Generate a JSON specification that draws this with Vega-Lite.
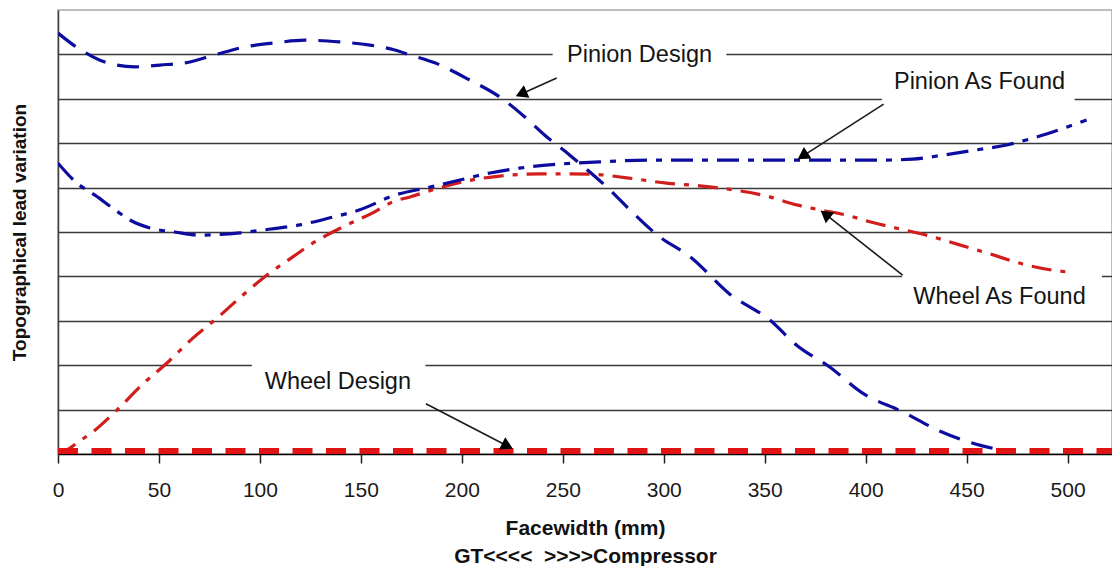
{
  "$schema": "https://vega.github.io/schema/vega-lite/v6.json",
  "autosize": {"type": "none"},
  "padding": {"left": 58, "top": 10, "right": 0, "bottom": 112},
  "width": 1054,
  "height": 444,
  "background": "white",
  "config": {
    "view": {"stroke": "#a8a8a8", "strokeWidth": 1.5},
    "font": "Liberation Sans"
  },
  "datasets": {
    "curves": [
      {"series": "Pinion Design", "mm": 0, "v": 9.48},
      {"series": "Pinion Design", "mm": 9.9, "v": 9.14},
      {"series": "Pinion Design", "mm": 20.8, "v": 8.87},
      {"series": "Pinion Design", "mm": 29.2, "v": 8.76},
      {"series": "Pinion Design", "mm": 38.1, "v": 8.72},
      {"series": "Pinion Design", "mm": 50.5, "v": 8.76},
      {"series": "Pinion Design", "mm": 65.3, "v": 8.83},
      {"series": "Pinion Design", "mm": 77.7, "v": 8.99},
      {"series": "Pinion Design", "mm": 92.6, "v": 9.17},
      {"series": "Pinion Design", "mm": 107.4, "v": 9.26},
      {"series": "Pinion Design", "mm": 122.3, "v": 9.32},
      {"series": "Pinion Design", "mm": 139.6, "v": 9.28},
      {"series": "Pinion Design", "mm": 154.5, "v": 9.21},
      {"series": "Pinion Design", "mm": 166.8, "v": 9.1},
      {"series": "Pinion Design", "mm": 174.3, "v": 8.99},
      {"series": "Pinion Design", "mm": 186.6, "v": 8.81},
      {"series": "Pinion Design", "mm": 204, "v": 8.42},
      {"series": "Pinion Design", "mm": 218.8, "v": 8.04},
      {"series": "Pinion Design", "mm": 231.2, "v": 7.59},
      {"series": "Pinion Design", "mm": 241.1, "v": 7.18},
      {"series": "Pinion Design", "mm": 253.5, "v": 6.73},
      {"series": "Pinion Design", "mm": 263.4, "v": 6.35},
      {"series": "Pinion Design", "mm": 273.3, "v": 5.95},
      {"series": "Pinion Design", "mm": 283.2, "v": 5.5},
      {"series": "Pinion Design", "mm": 298, "v": 4.89},
      {"series": "Pinion Design", "mm": 312.9, "v": 4.45},
      {"series": "Pinion Design", "mm": 332.7, "v": 3.6},
      {"series": "Pinion Design", "mm": 352.5, "v": 3.02},
      {"series": "Pinion Design", "mm": 365.8, "v": 2.45},
      {"series": "Pinion Design", "mm": 382.2, "v": 1.96},
      {"series": "Pinion Design", "mm": 398.5, "v": 1.37},
      {"series": "Pinion Design", "mm": 418.3, "v": 0.95},
      {"series": "Pinion Design", "mm": 436.6, "v": 0.52},
      {"series": "Pinion Design", "mm": 456.4, "v": 0.2},
      {"series": "Pinion Design", "mm": 464.9, "v": 0.11},

      {"series": "Pinion As Found", "mm": 0, "v": 6.55},
      {"series": "Pinion As Found", "mm": 9.4, "v": 6.1},
      {"series": "Pinion As Found", "mm": 18.3, "v": 5.83},
      {"series": "Pinion As Found", "mm": 28.2, "v": 5.5},
      {"series": "Pinion As Found", "mm": 35.6, "v": 5.27},
      {"series": "Pinion As Found", "mm": 45.5, "v": 5.09},
      {"series": "Pinion As Found", "mm": 57.9, "v": 5.0},
      {"series": "Pinion As Found", "mm": 70.3, "v": 4.93},
      {"series": "Pinion As Found", "mm": 90.1, "v": 4.98},
      {"series": "Pinion As Found", "mm": 102.5, "v": 5.05},
      {"series": "Pinion As Found", "mm": 119.8, "v": 5.16},
      {"series": "Pinion As Found", "mm": 134.7, "v": 5.32},
      {"series": "Pinion As Found", "mm": 149.5, "v": 5.5},
      {"series": "Pinion As Found", "mm": 166.8, "v": 5.83},
      {"series": "Pinion As Found", "mm": 184.2, "v": 6.01},
      {"series": "Pinion As Found", "mm": 199, "v": 6.17},
      {"series": "Pinion As Found", "mm": 213.9, "v": 6.33},
      {"series": "Pinion As Found", "mm": 228.7, "v": 6.44},
      {"series": "Pinion As Found", "mm": 248.5, "v": 6.53},
      {"series": "Pinion As Found", "mm": 268.3, "v": 6.58},
      {"series": "Pinion As Found", "mm": 293.1, "v": 6.62},
      {"series": "Pinion As Found", "mm": 317.8, "v": 6.62},
      {"series": "Pinion As Found", "mm": 347.5, "v": 6.62},
      {"series": "Pinion As Found", "mm": 367.3, "v": 6.62},
      {"series": "Pinion As Found", "mm": 392, "v": 6.62},
      {"series": "Pinion As Found", "mm": 408.4, "v": 6.62},
      {"series": "Pinion As Found", "mm": 423.3, "v": 6.64},
      {"series": "Pinion As Found", "mm": 438.1, "v": 6.73},
      {"series": "Pinion As Found", "mm": 455, "v": 6.85},
      {"series": "Pinion As Found", "mm": 469.8, "v": 6.96},
      {"series": "Pinion As Found", "mm": 484.7, "v": 7.14},
      {"series": "Pinion As Found", "mm": 499.5, "v": 7.36},
      {"series": "Pinion As Found", "mm": 509.4, "v": 7.52},

      {"series": "Wheel As Found", "mm": 0, "v": 0},
      {"series": "Wheel As Found", "mm": 4.5, "v": 0.09},
      {"series": "Wheel As Found", "mm": 9.4, "v": 0.25},
      {"series": "Wheel As Found", "mm": 17.3, "v": 0.5},
      {"series": "Wheel As Found", "mm": 29.2, "v": 0.99},
      {"series": "Wheel As Found", "mm": 42.1, "v": 1.58},
      {"series": "Wheel As Found", "mm": 54, "v": 2.05},
      {"series": "Wheel As Found", "mm": 66.8, "v": 2.61},
      {"series": "Wheel As Found", "mm": 78.7, "v": 3.06},
      {"series": "Wheel As Found", "mm": 91.6, "v": 3.58},
      {"series": "Wheel As Found", "mm": 103.5, "v": 4.03},
      {"series": "Wheel As Found", "mm": 116.3, "v": 4.44},
      {"series": "Wheel As Found", "mm": 124.8, "v": 4.71},
      {"series": "Wheel As Found", "mm": 136.1, "v": 5.0},
      {"series": "Wheel As Found", "mm": 143.1, "v": 5.16},
      {"series": "Wheel As Found", "mm": 155.9, "v": 5.43},
      {"series": "Wheel As Found", "mm": 165.8, "v": 5.68},
      {"series": "Wheel As Found", "mm": 174.3, "v": 5.79},
      {"series": "Wheel As Found", "mm": 185.6, "v": 5.95},
      {"series": "Wheel As Found", "mm": 202.5, "v": 6.15},
      {"series": "Wheel As Found", "mm": 218.8, "v": 6.26},
      {"series": "Wheel As Found", "mm": 238.6, "v": 6.31},
      {"series": "Wheel As Found", "mm": 252, "v": 6.31},
      {"series": "Wheel As Found", "mm": 264.9, "v": 6.3},
      {"series": "Wheel As Found", "mm": 281.7, "v": 6.22},
      {"series": "Wheel As Found", "mm": 301.5, "v": 6.1},
      {"series": "Wheel As Found", "mm": 317.8, "v": 6.04},
      {"series": "Wheel As Found", "mm": 334.2, "v": 5.95},
      {"series": "Wheel As Found", "mm": 351, "v": 5.81},
      {"series": "Wheel As Found", "mm": 365.8, "v": 5.61},
      {"series": "Wheel As Found", "mm": 377.2, "v": 5.5},
      {"series": "Wheel As Found", "mm": 390.6, "v": 5.38},
      {"series": "Wheel As Found", "mm": 402, "v": 5.23},
      {"series": "Wheel As Found", "mm": 416.8, "v": 5.07},
      {"series": "Wheel As Found", "mm": 431.7, "v": 4.91},
      {"series": "Wheel As Found", "mm": 446.5, "v": 4.71},
      {"series": "Wheel As Found", "mm": 459.9, "v": 4.53},
      {"series": "Wheel As Found", "mm": 477.7, "v": 4.28},
      {"series": "Wheel As Found", "mm": 492.6, "v": 4.14},
      {"series": "Wheel As Found", "mm": 500, "v": 4.1},

      {"series": "Wheel Design", "mm": 0, "v": 0.07},
      {"series": "Wheel Design", "mm": 522, "v": 0.07}
    ],
    "boxes": [
      {"label": "Pinion Design", "x1": 245, "x2": 331, "y1": 8.7, "y2": 9.3},
      {"label": "Pinion As Found", "x1": 408, "x2": 503.5, "y1": 7.7, "y2": 8.3},
      {"label": "Wheel As Found", "x1": 418, "x2": 517, "y1": 3.2, "y2": 4.04},
      {"label": "Wheel Design", "x1": 96, "x2": 182, "y1": 1.3, "y2": 2.3}
    ],
    "labels": [
      {"label": "Pinion Design", "x": 288, "y": 8.99},
      {"label": "Pinion As Found", "x": 456.4, "y": 8.38},
      {"label": "Wheel As Found", "x": 466.3, "y": 3.54},
      {"label": "Wheel Design", "x": 138.6, "y": 1.62}
    ],
    "arrows": [
      {"label": "Pinion Design", "x1": 247, "y1": 8.47, "x2": 229.4, "y2": 8.11},
      {"label": "Pinion As Found", "x1": 408.9, "y1": 7.88, "x2": 368.8, "y2": 6.71},
      {"label": "Wheel As Found", "x1": 418.3, "y1": 4.03, "x2": 380, "y2": 5.4},
      {"label": "Wheel Design", "x1": 182.2, "y1": 1.13, "x2": 222.6, "y2": 0.18}
    ]
  },
  "layer": [
    {
      "data": {"name": "boxes"},
      "mark": {"type": "rect", "fill": "white", "stroke": null},
      "encoding": {
        "x": {
          "field": "x1", "type": "quantitative",
          "scale": {"domain": [0, 522], "nice": false, "zero": false},
          "axis": {
            "values": [0, 50, 100, 150, 200, 250, 300, 350, 400, 450, 500],
            "grid": false,
            "domain": true, "domainColor": "#000000", "domainWidth": 1.5,
            "ticks": true, "tickSize": 9, "tickColor": "#202020", "tickWidth": 1.5,
            "labelFont": "Liberation Sans", "labelFontSize": 21, "labelColor": "#1a1a1a",
            "labelBaseline": "alphabetic", "labelPadding": 33, "labelFlush": false,
            "title": ["Facewidth (mm)", "GT<<<<\u00a0 >>>>Compressor"],
            "titleFont": "Liberation Sans", "titleFontSize": 21, "titleFontWeight": "bold",
            "titleColor": "#111111", "titleLineHeight": 28,
            "titleBaseline": "alphabetic", "titleY": 80, "titleX": 527, "titleAnchor": "middle"
          }
        },
        "x2": {"field": "x2"},
        "y": {
          "field": "y1", "type": "quantitative",
          "scale": {"domain": [0, 10], "nice": false, "zero": false},
          "axis": {
            "values": [1, 2, 3, 4, 5, 6, 7, 8, 9],
            "grid": true, "gridColor": "#3a3a3a", "gridWidth": 1.3,
            "labels": false, "ticks": false,
            "domain": true, "domainColor": "#404040", "domainWidth": 1.5,
            "title": "Topographical lead variation",
            "titleFont": "Liberation Sans", "titleFontSize": 19, "titleFontWeight": "bold",
            "titleColor": "#111111",
            "titleAngle": 270, "titleX": -39, "titleY": 222,
            "titleAlign": "center", "titleBaseline": "middle"
          }
        },
        "y2": {"field": "y2"}
      }
    },
    {
      "data": {"name": "curves"},
      "transform": [{"filter": "datum.series === 'Wheel As Found'"}],
      "mark": {"type": "line", "color": "#d21d1d", "strokeWidth": 3.2, "strokeDash": [20, 9, 5, 9], "interpolate": "monotone", "clip": true},
      "encoding": {
        "x": {"field": "mm", "type": "quantitative"},
        "y": {"field": "v", "type": "quantitative"}
      }
    },
    {
      "data": {"name": "curves"},
      "transform": [{"filter": "datum.series === 'Pinion As Found'"}],
      "mark": {"type": "line", "color": "#0c0c9e", "strokeWidth": 3.2, "strokeDash": [22, 9, 6, 9], "interpolate": "monotone", "clip": true},
      "encoding": {
        "x": {"field": "mm", "type": "quantitative"},
        "y": {"field": "v", "type": "quantitative"}
      }
    },
    {
      "data": {"name": "curves"},
      "transform": [{"filter": "datum.series === 'Pinion Design'"}],
      "mark": {"type": "line", "color": "#0c0c9e", "strokeWidth": 3.2, "strokeDash": [22, 12], "interpolate": "monotone", "clip": true},
      "encoding": {
        "x": {"field": "mm", "type": "quantitative"},
        "y": {"field": "v", "type": "quantitative"}
      }
    },
    {
      "data": {"name": "curves"},
      "transform": [{"filter": "datum.series === 'Wheel Design'"}],
      "mark": {"type": "line", "color": "#e01414", "strokeWidth": 6, "strokeDash": [20, 13.5], "clip": true},
      "encoding": {
        "x": {"field": "mm", "type": "quantitative"},
        "y": {"field": "v", "type": "quantitative"}
      }
    },
    {
      "data": {"name": "arrows"},
      "mark": {"type": "rule", "color": "#1a1a1a", "strokeWidth": 1.6},
      "encoding": {
        "x": {"field": "x1", "type": "quantitative"},
        "y": {"field": "y1", "type": "quantitative"},
        "x2": {"field": "x2"},
        "y2": {"field": "y2"}
      }
    },
    {
      "data": {"name": "arrows"},
      "transform": [{"filter": "datum.label === 'Pinion Design'"}],
      "mark": {"type": "point", "shape": "triangle-up", "filled": true, "color": "#000000", "size": 190, "angle": 246, "opacity": 1},
      "encoding": {
        "x": {"field": "x2", "type": "quantitative"},
        "y": {"field": "y2", "type": "quantitative"}
      }
    },
    {
      "data": {"name": "arrows"},
      "transform": [{"filter": "datum.label === 'Pinion As Found'"}],
      "mark": {"type": "point", "shape": "triangle-up", "filled": true, "color": "#000000", "size": 190, "angle": 237, "opacity": 1},
      "encoding": {
        "x": {"field": "x2", "type": "quantitative"},
        "y": {"field": "y2", "type": "quantitative"}
      }
    },
    {
      "data": {"name": "arrows"},
      "transform": [{"filter": "datum.label === 'Wheel As Found'"}],
      "mark": {"type": "point", "shape": "triangle-up", "filled": true, "color": "#000000", "size": 190, "angle": 308, "opacity": 1},
      "encoding": {
        "x": {"field": "x2", "type": "quantitative"},
        "y": {"field": "y2", "type": "quantitative"}
      }
    },
    {
      "data": {"name": "arrows"},
      "transform": [{"filter": "datum.label === 'Wheel Design'"}],
      "mark": {"type": "point", "shape": "triangle-up", "filled": true, "color": "#000000", "size": 190, "angle": 117, "opacity": 1},
      "encoding": {
        "x": {"field": "x2", "type": "quantitative"},
        "y": {"field": "y2", "type": "quantitative"}
      }
    },
    {
      "data": {"name": "labels"},
      "mark": {"type": "text", "font": "Liberation Sans", "fontSize": 23.5, "color": "#141414", "align": "center", "baseline": "middle"},
      "encoding": {
        "x": {"field": "x", "type": "quantitative"},
        "y": {"field": "y", "type": "quantitative"},
        "text": {"field": "label"}
      }
    }
  ]
}
